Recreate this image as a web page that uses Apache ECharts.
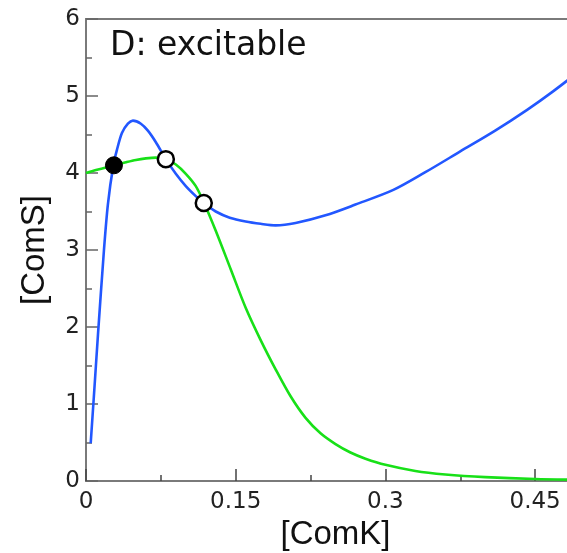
<!DOCTYPE html>
<html>
<head>
<meta charset="utf-8">
<script src="https://cdn.jsdelivr.net/npm/echarts@6/dist/echarts.min.js"></script>
<style>
html,body{margin:0;padding:0;background:#fff;}
#chart{width:567px;height:553px;}
</style>
</head>
<body>
<div id="chart"></div>
<script>
var titleText = 'D: excitable';
var xName = '[ComK]';
var yName = '[ComS]';

var blueX = [0.0047, 0.008, 0.012, 0.018, 0.022, 0.0274, 0.031, 0.036, 0.042, 0.047, 0.055, 0.062, 0.070, 0.080, 0.090, 0.100, 0.110, 0.118, 0.130, 0.144, 0.160, 0.175, 0.190, 0.210, 0.240, 0.270, 0.308, 0.340, 0.375, 0.410, 0.442, 0.468, 0.500];
var blueY = [0.49, 1.12, 1.90, 3.00, 3.60, 4.10, 4.30, 4.52, 4.64, 4.68, 4.64, 4.55, 4.40, 4.18, 3.99, 3.83, 3.70, 3.61, 3.50, 3.42, 3.37, 3.34, 3.32, 3.35, 3.45, 3.59, 3.78, 4.01, 4.28, 4.55, 4.82, 5.06, 5.38];

var greenX = [0, 0.01, 0.02, 0.028, 0.04, 0.05, 0.06, 0.07, 0.08, 0.09, 0.10, 0.11, 0.118, 0.13, 0.145, 0.16, 0.175, 0.19, 0.205, 0.22, 0.235, 0.25, 0.265, 0.28, 0.30, 0.33, 0.36, 0.40, 0.45, 0.50];
var greenY = [4.00, 4.04, 4.07, 4.10, 4.14, 4.17, 4.19, 4.20, 4.18, 4.11, 3.99, 3.83, 3.62, 3.25, 2.75, 2.25, 1.83, 1.45, 1.10, 0.82, 0.62, 0.48, 0.37, 0.29, 0.21, 0.13, 0.085, 0.05, 0.025, 0.015];

var stableX = [0.028];
var stableY = [4.10];
var unstableX = [0.080, 0.118];
var unstableY = [4.18, 3.61];

function pairs(xs, ys) { return xs.map(function (x, i) { return [x, ys[i]]; }); }

var axisColor = '#7a7a7a';
var labelColor = '#222';
var fontFam = 'Liberation Sans, Arial, sans-serif';
var wideFam = 'DejaVu Sans, sans-serif';

var chart = echarts.init(document.getElementById('chart'), null, {renderer: 'canvas'});
chart.setOption({
  animation: false,
  backgroundColor: '#fff',
  title: {
    text: titleText, left: 110, top: 30, padding: 0,
    textStyle: {fontFamily: wideFam, fontSize: 33, fontWeight: 'normal', color: '#111'}
  },
  grid: {left: 86, top: 19, width: 499, height: 462, outerBoundsMode: 'none', containLabel: false,
         show: true, borderColor: axisColor, borderWidth: 2, backgroundColor: 'transparent'},
  xAxis: {
    type: 'value', min: 0, max: 0.5, interval: 0.15,
    name: xName, nameLocation: 'middle', nameGap: 31,
    nameTextStyle: {fontFamily: fontFam, fontSize: 33, color: '#111'},
    axisLine: {show: true, lineStyle: {color: axisColor, width: 2}},
    axisTick: {show: true, inside: true, length: 12, lineStyle: {color: '#444', width: 1.5}},
    minorTick: {show: true, splitNumber: 2, length: 6, lineStyle: {color: '#444', width: 1.5}},
    axisLabel: {fontFamily: wideFam, fontSize: 23, color: labelColor, margin: 10, showMaxLabel: false},
    splitLine: {show: false}
  },
  yAxis: {
    type: 'value', min: 0, max: 6, interval: 1,
    name: yName, nameLocation: 'middle', nameGap: 35, nameRotate: 90,
    nameTextStyle: {fontFamily: fontFam, fontSize: 33, color: '#111'},
    axisLine: {show: true, lineStyle: {color: axisColor, width: 2}},
    axisTick: {show: true, inside: true, length: 12, lineStyle: {color: '#666', width: 1.5}},
    minorTick: {show: true, splitNumber: 2, length: 6, lineStyle: {color: '#666', width: 1.5}},
    axisLabel: {fontFamily: wideFam, fontSize: 23, color: labelColor, margin: 6, padding: [6, 0, 0, 0]},
    splitLine: {show: false}
  },
  series: [
    {
      type: 'line', data: pairs(greenX, greenY), smooth: 0.3,
      showSymbol: false, lineStyle: {color: '#18e018', width: 2.6}, z: 2
    },
    {
      type: 'line', data: pairs(blueX, blueY), smooth: 0.3,
      showSymbol: false, lineStyle: {color: '#2257ff', width: 2.6}, z: 3
    },
    {
      type: 'scatter', data: pairs(stableX, stableY), symbol: 'circle', symbolSize: 17,
      itemStyle: {color: '#000', borderColor: '#000', borderWidth: 1, opacity: 1}, z: 5
    },
    {
      type: 'scatter', data: pairs(unstableX, unstableY), symbol: 'circle', symbolSize: 16,
      itemStyle: {color: '#fff', borderColor: '#000', borderWidth: 2.5, opacity: 1}, z: 5
    }
  ]
});
</script>
</body>
</html>
